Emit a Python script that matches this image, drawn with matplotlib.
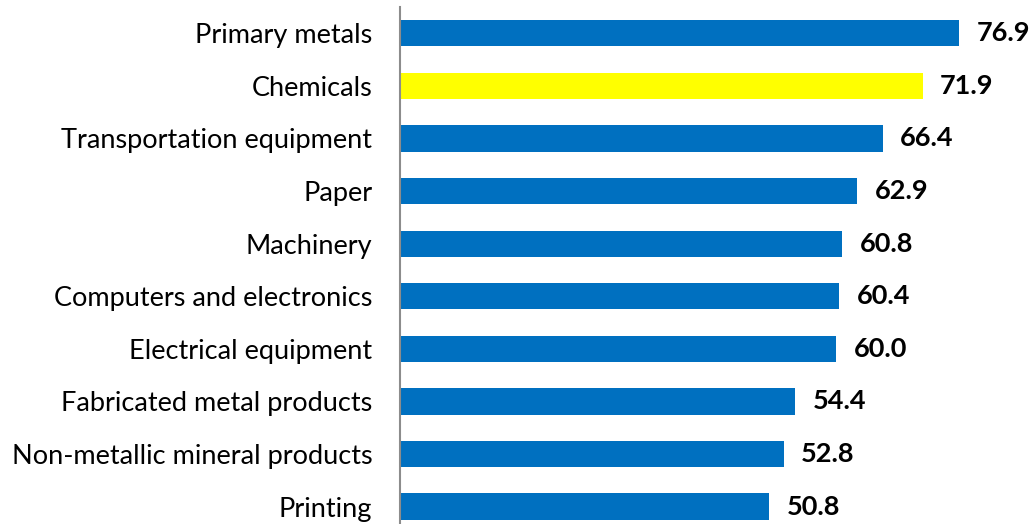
import numpy as np
import matplotlib.pyplot as plt

categories = ['Primary metals', 'Chemicals', 'Transportation equipment', 'Paper',
              'Machinery', 'Computers and electronics', 'Electrical equipment',
              'Fabricated metal products', 'Non-metallic mineral products', 'Printing']
values = [76.9, 71.9, 66.4, 62.9, 60.8, 60.4, 60.0, 54.4, 52.8, 50.8]
highlight = 'Chemicals'

plt.rcParams['font.family'] = ['Lato', 'DejaVu Sans']

fig = plt.figure(figsize=(10.31, 5.24), dpi=100)
ax = fig.add_axes([400/1031, 0, 631/1031, 517/524])

colors = ['#FFFF00' if c == highlight else '#0070C0' for c in categories]
ypos = np.arange(len(categories))
ax.barh(ypos, values, height=0.5, color=colors)

# value labels just right of each bar
for y, v in zip(ypos, values):
    ax.annotate(f'{v:.1f}', (v, y), xytext=(12.5, 0), textcoords='offset points',
                va='center', ha='left', fontsize=19.5, fontweight='bold', color='black')

ax.set_xlim(0, 631/7.27)
ax.set_ylim(9.33, -0.5)
ax.set_yticks(ypos)
ax.set_yticklabels(categories, fontsize=19.5)
ax.tick_params(axis='y', length=0, pad=20)
ax.set_xticks([])
for s in ['top', 'right', 'bottom']:
    ax.spines[s].set_visible(False)
ax.spines['left'].set_color('#8c8c8c')
ax.spines['left'].set_linewidth(1.5)

plt.savefig('out.png', dpi=100)
